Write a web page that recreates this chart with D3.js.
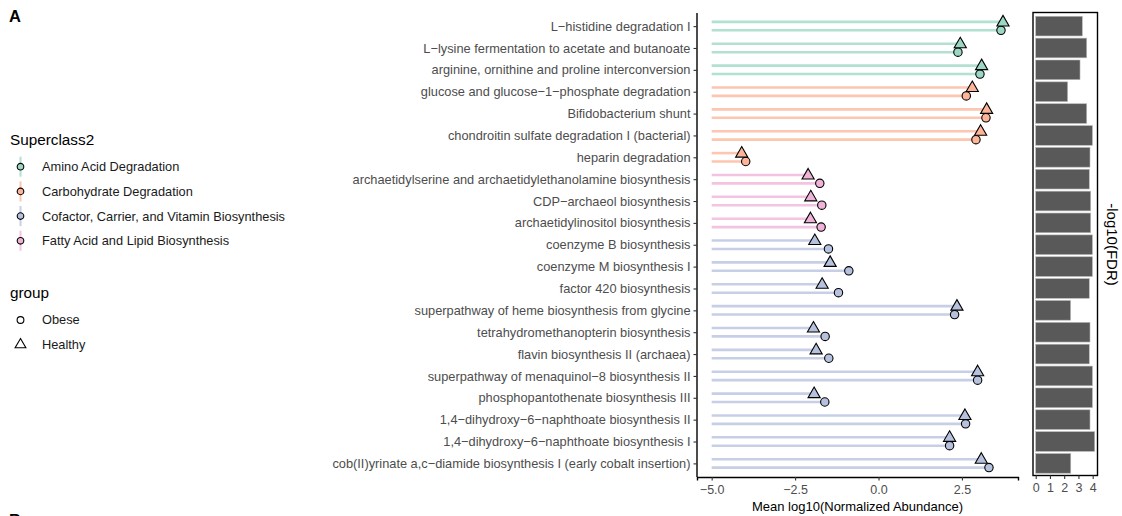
<!DOCTYPE html>
<html>
<head>
<meta charset="utf-8">
<script src="https://cdn.jsdelivr.net/npm/d3@7"></script>
<style>
  body { margin: 0; background: #fff; }
  text { font-family: "Liberation Sans", Arial, sans-serif; }
</style>
</head>
<body>
<div id="chart"></div>
<script>
// pathways, top to bottom
const pathways = [
  "L\u2212histidine degradation I",
  "L\u2212lysine fermentation to acetate and butanoate",
  "arginine, ornithine and proline interconversion",
  "glucose and glucose\u22121\u2212phosphate degradation",
  "Bifidobacterium shunt",
  "chondroitin sulfate degradation I (bacterial)",
  "heparin degradation",
  "archaetidylserine and archaetidylethanolamine biosynthesis",
  "CDP\u2212archaeol biosynthesis",
  "archaetidylinositol biosynthesis",
  "coenzyme B biosynthesis",
  "coenzyme M biosynthesis I",
  "factor 420 biosynthesis",
  "superpathway of heme biosynthesis from glycine",
  "tetrahydromethanopterin biosynthesis",
  "flavin biosynthesis II (archaea)",
  "superpathway of menaquinol\u22128 biosynthesis II",
  "phosphopantothenate biosynthesis III",
  "1,4\u2212dihydroxy\u22126\u2212naphthoate biosynthesis II",
  "1,4\u2212dihydroxy\u22126\u2212naphthoate biosynthesis I",
  "cob(II)yrinate a,c\u2212diamide biosynthesis I (early cobalt insertion)"
];
const superclass = [
  "Amino Acid Degradation", "Amino Acid Degradation", "Amino Acid Degradation",
  "Carbohydrate Degradation", "Carbohydrate Degradation", "Carbohydrate Degradation", "Carbohydrate Degradation",
  "Fatty Acid and Lipid Biosynthesis", "Fatty Acid and Lipid Biosynthesis", "Fatty Acid and Lipid Biosynthesis",
  "Cofactor, Carrier, and Vitamin Biosynthesis", "Cofactor, Carrier, and Vitamin Biosynthesis",
  "Cofactor, Carrier, and Vitamin Biosynthesis", "Cofactor, Carrier, and Vitamin Biosynthesis",
  "Cofactor, Carrier, and Vitamin Biosynthesis", "Cofactor, Carrier, and Vitamin Biosynthesis",
  "Cofactor, Carrier, and Vitamin Biosynthesis", "Cofactor, Carrier, and Vitamin Biosynthesis",
  "Cofactor, Carrier, and Vitamin Biosynthesis", "Cofactor, Carrier, and Vitamin Biosynthesis",
  "Cofactor, Carrier, and Vitamin Biosynthesis"
];
const healthy = [3.73, 2.45, 3.09, 2.81, 3.24, 3.06, -4.10, -2.11, -2.03, -2.04, -1.91,
  -1.45, -1.69, 2.35, -1.95, -1.87, 2.97, -1.93, 2.59, 2.13, 3.08];
const obese = [3.67, 2.38, 3.04, 2.63, 3.22, 2.92, -3.98, -1.76, -1.70, -1.72, -1.50,
  -0.89, -1.20, 2.28, -1.60, -1.49, 2.97, -1.61, 2.61, 2.13, 3.31];
const fdr = [3.27, 3.58, 3.11, 2.24, 3.58, 3.98, 3.81, 3.76, 3.86, 3.86, 3.98,
  3.98, 3.76, 2.45, 3.81, 3.76, 3.98, 3.98, 3.81, 4.14, 2.46];

const classes = ["Amino Acid Degradation", "Carbohydrate Degradation",
  "Cofactor, Carrier, and Vitamin Biosynthesis", "Fatty Acid and Lipid Biosynthesis"];
const classColors = ["#66C2A5", "#FC8D62", "#8DA0CB", "#E78AC3"];
const groups = ["Obese", "Healthy"];

const width = 1122, height = 516;
const svg = d3.select("#chart").append("svg")
  .attr("width", width).attr("height", height);

const color = d3.scaleOrdinal().domain(classes).range(classColors);
const pale = c => d3.interpolateRgb(c, "#fff")(0.35);

// main lollipop panel
const x = d3.scaleLinear().domain([-5.44, 4.18]).range([697, 1018]);
const y = d3.scalePoint().domain(pathways).range([13, 476.5]).padding(0.6);
const off = 4.2;
const lineBase = -5;

const rows = pathways.map((p, i) => ({p, cls: superclass[i], h: healthy[i], o: obese[i], f: fdr[i]}));

const g = svg.append("g");

// segments
rows.forEach(d => {
  [[d.h, -off], [d.o, off]].forEach(([v, dy]) => {
    g.append("line")
      .attr("x1", x(lineBase)).attr("x2", x(v))
      .attr("y1", y(d.p) + dy).attr("y2", y(d.p) + dy)
      .attr("stroke", color(d.cls))
      .attr("stroke-opacity", 0.5)
      .attr("stroke-width", 2.6);
  });
});

const tri = d3.symbol().type(d3.symbolTriangle).size(64);

// points
rows.forEach(d => {
  g.append("circle")
    .attr("cx", x(d.o)).attr("cy", y(d.p) + off).attr("r", 4.2)
    .attr("fill", pale(color(d.cls)))
    .attr("stroke", "#000").attr("stroke-width", 1.1);
  g.append("path")
    .attr("d", tri)
    .attr("transform", `translate(${x(d.h)},${y(d.p) - off + 0.5})`)
    .attr("fill", pale(color(d.cls)))
    .attr("stroke", "#000").attr("stroke-width", 1.1);
});

// axes
const xAxis = svg.append("g")
  .attr("transform", "translate(0,477)")
  .call(d3.axisBottom(x).tickValues([-5, -2.5, 0, 2.5]).tickSizeOuter(0).tickSize(3.5));
xAxis.select(".domain").attr("stroke", "#000").attr("stroke-width", 1.4);
xAxis.selectAll(".tick line").attr("stroke", "#333").attr("stroke-width", 1.1);
xAxis.selectAll(".tick text").attr("fill", "#4d4d4d").attr("font-size", 12.5)
  .attr("font-family", "Liberation Sans, Arial, sans-serif").attr("dy", "0.8em")
  .text(d => d3.format(".1f")(d).replace("-", "\u2212"));

const yAxis = svg.append("g")
  .attr("transform", "translate(697,0)")
  .call(d3.axisLeft(y).tickSizeOuter(0).tickSize(3.5).tickPadding(3));
yAxis.select(".domain").attr("stroke", "#000").attr("stroke-width", 1.4)
  .attr("d", "M0,13V477");
yAxis.selectAll(".tick line").attr("stroke", "#333").attr("stroke-width", 1.1);
yAxis.selectAll(".tick text").attr("fill", "#4d4d4d").attr("font-size", 12.8)
  .attr("font-family", "Liberation Sans, Arial, sans-serif");

svg.append("text")
  .attr("x", (697 + 1018) / 2).attr("y", 511)
  .attr("text-anchor", "middle").attr("font-size", 13).attr("fill", "#000")
  .text("Mean log10(Normalized Abundance)");

// FDR bar panel
const xb = d3.scaleLinear().domain([0, 4]).range([1035.7, 1092.7]);
const bh = y.step() * 0.9;
svg.append("g").selectAll("rect")
  .data(rows).join("rect")
  .attr("x", xb(0)).attr("y", d => y(d.p) - bh / 2)
  .attr("width", d => xb(d.f) - xb(0)).attr("height", bh)
  .attr("fill", "#595959").attr("stroke", "#b8b8b8").attr("stroke-width", 0.6);

svg.append("rect")
  .attr("x", 1033).attr("y", 12.5).attr("width", 64.5).attr("height", 463)
  .attr("fill", "none").attr("stroke", "#000").attr("stroke-width", 1.4);

const bAxis = svg.append("g")
  .attr("transform", "translate(0,475.5)")
  .call(d3.axisBottom(xb).tickValues([0, 1, 2, 3, 4]).tickFormat(d3.format("d")).tickSize(3.5).tickSizeOuter(0));
bAxis.select(".domain").remove();
bAxis.selectAll(".tick line").attr("stroke", "#333").attr("stroke-width", 1.1);
bAxis.selectAll(".tick text").attr("fill", "#4d4d4d").attr("font-size", 12.5)
  .attr("font-family", "Liberation Sans, Arial, sans-serif").attr("dy", "0.8em");

svg.append("text")
  .attr("transform", `translate(1107,${(13 + 476) / 2}) rotate(90)`)
  .attr("text-anchor", "middle").attr("font-size", 15).attr("fill", "#000")
  .text("-log10(FDR)");

// legends
svg.append("text").attr("x", 10).attr("y", 145).attr("font-size", 15.3).text("Superclass2");
const leg = svg.append("g").selectAll("g").data(classes).join("g")
  .attr("transform", (d, i) => `translate(20.5,${166.7 + i * 24.7})`);
leg.append("line").attr("y1", -10).attr("y2", 10)
  .attr("stroke", d => color(d)).attr("stroke-opacity", 0.5).attr("stroke-width", 2);
leg.append("circle").attr("r", 3.3)
  .attr("fill", d => pale(color(d)))
  .attr("stroke", "#000").attr("stroke-width", 1.1);
leg.append("text").attr("x", 21.5).attr("dy", "0.35em").attr("font-size", 12.8)
  .attr("fill", "#1a1a1a").text(d => d);

svg.append("text").attr("x", 10).attr("y", 298).attr("font-size", 15.3).text("group");
const leg2 = svg.append("g").selectAll("g").data(groups).join("g")
  .attr("transform", (d, i) => `translate(20.5,${320 + i * 24.7})`);
leg2.append("path")
  .attr("d", d => d === "Obese" ? d3.symbol().type(d3.symbolCircle).size(36)() : d3.symbol().type(d3.symbolTriangle).size(50)())
  .attr("fill", "none").attr("stroke", "#000").attr("stroke-width", 1.1);
leg2.append("text").attr("x", 21.5).attr("dy", "0.35em").attr("font-size", 12.8)
  .attr("fill", "#1a1a1a").text(d => d);

// panel tags
svg.append("text").attr("x", 9).attr("y", 22).attr("font-size", 16.5).attr("font-weight", "bold").text("A");
svg.append("text").attr("x", 9).attr("y", 526).attr("font-size", 16.5).attr("font-weight", "bold").text("B");
</script>
</body>
</html>
